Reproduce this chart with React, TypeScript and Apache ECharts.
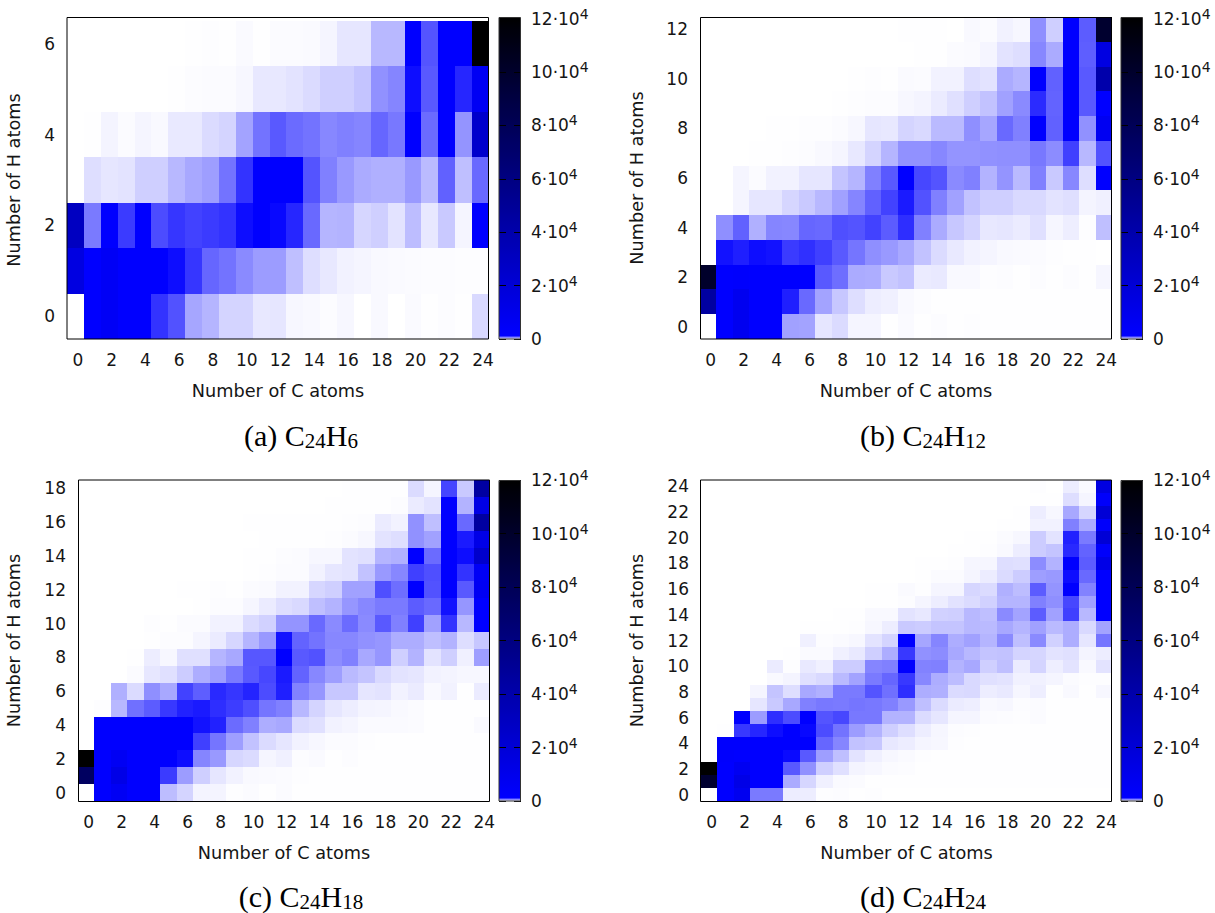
import React, { useEffect, useRef } from "react";
import * as echarts from "echarts";

// Rows run from the highest H count (top) down to H = 0. Columns are C = 0..24.
const panelA = [
  [0,0,0,0,0,0,0,3,8,5,20,5,15,15,20,40,100,100,280,280,1000,670,1000,1000,120000],
  [0,0,0,0,0,0,3,12,15,15,30,90,90,110,140,190,190,230,430,480,950,650,1000,850,6000],
  [0,5,45,15,40,25,85,85,140,170,360,550,650,580,550,470,500,480,600,530,1000,580,1000,420,25000],
  [0,130,100,110,190,190,280,340,380,550,800,1000,1000,1000,670,500,400,330,310,310,400,265,620,250,590],
  [30000,520,1000,770,1000,700,790,740,770,800,950,1000,970,850,590,290,300,160,190,110,260,90,210,40,1000],
  [15000,1000,5000,1000,1000,1000,950,790,600,550,460,390,390,250,130,90,50,40,25,20,15,12,10,8,8],
  [0,1000,5000,1000,1000,800,680,350,290,170,170,90,100,30,25,12,30,0,25,0,20,5,10,3,150],
];
const panelB = [
  [0,0,0,0,0,0,0,0,0,0,0,0,3,2,3,0,25,15,50,30,440,190,1000,640,98000],
  [0,0,0,0,0,0,0,0,0,0,0,0,0,3,3,15,20,40,110,130,470,330,1000,630,15000],
  [0,0,0,0,0,0,0,0,0,4,8,4,20,15,50,50,130,110,330,290,1000,620,1000,650,40000],
  [0,0,0,0,0,0,0,0,5,8,12,12,30,45,80,120,190,240,370,460,830,610,1000,650,1000],
  [0,0,0,0,4,3,6,6,15,30,100,90,170,150,270,270,440,350,590,500,1000,620,1000,430,7000],
  [0,0,0,3,3,8,12,25,40,90,170,290,430,430,470,420,420,430,440,440,530,450,750,280,680],
  [0,0,40,15,50,50,100,100,230,290,500,650,1000,720,670,460,500,300,420,270,500,210,470,130,1000],
  [0,0,40,100,100,160,210,280,370,480,620,740,900,680,500,370,240,190,190,150,150,110,125,45,60],
  [0,440,620,310,480,470,600,590,690,670,740,640,820,500,330,220,170,90,100,80,120,35,65,8,250],
  [0,930,880,950,930,770,810,750,650,540,440,400,340,240,140,85,50,40,25,20,15,8,5,3,0],
  [100000,1000,2000,1000,1000,1000,1000,650,570,330,320,210,240,80,85,25,25,8,12,3,12,3,12,3,35],
  [45000,1000,8000,1000,1000,880,590,360,220,130,70,60,25,10,3,2,2,2,2,2,2,2,2,2,2],
  [0,1000,8000,1000,1000,370,360,100,140,40,40,5,20,5,10,2,8,2,2,2,2,2,2,2,2],
];
const panelC = [
  [0,0,0,0,0,0,0,0,0,0,0,0,0,0,0,1,2,2,5,5,140,40,730,210,45000],
  [0,0,0,0,0,0,0,0,0,1,1,1,1,1,1,2,2,4,5,12,80,110,1000,300,13000],
  [0,0,0,0,0,0,0,0,0,0,3,3,3,3,3,5,8,10,80,50,430,250,1000,590,45000],
  [0,0,0,0,0,0,0,0,0,0,1,2,2,2,5,8,15,30,110,130,430,370,1000,900,12000],
  [0,0,0,0,0,0,0,0,0,0,5,5,10,15,30,30,110,120,290,310,1000,580,1000,950,25000],
  [0,0,0,0,0,0,0,0,0,0,5,8,15,15,50,100,110,240,400,470,750,690,1000,800,5000],
  [0,0,0,0,0,0,3,3,8,5,15,20,50,50,160,190,370,370,690,570,1000,680,1000,650,6000],
  [0,0,0,0,0,0,0,2,10,12,35,80,130,150,250,300,410,470,520,520,640,590,930,410,1000],
  [0,0,0,0,6,4,15,15,50,50,140,180,420,420,590,460,580,460,650,500,750,370,800,280,1000],
  [0,0,0,0,3,10,12,40,80,160,290,400,930,610,550,470,470,430,410,320,320,250,300,130,220],
  [0,0,0,5,70,30,120,120,290,340,660,660,1000,650,680,450,500,340,410,190,300,110,190,60,380],
  [0,0,0,15,95,120,200,320,380,520,650,720,900,610,470,380,270,230,150,110,100,50,45,30,30],
  [0,0,310,140,440,340,740,630,840,790,860,700,880,490,410,220,220,100,110,50,80,25,50,3,80],
  [0,8,280,560,640,780,870,900,820,760,690,540,500,280,170,100,70,45,40,25,15,5,5,3,3],
  [0,1000,1000,1000,1000,1000,1000,930,870,580,500,320,340,140,120,50,40,20,20,20,15,3,3,2,20],
  [0,1000,1000,1000,1000,1000,1000,750,540,380,240,140,100,50,30,15,15,8,5,3,2,2,2,2,2],
  [120000,1000,6000,1000,1000,1000,950,480,400,160,140,40,60,12,20,3,12,3,2,2,2,2,2,2,2],
  [75000,1000,12000,1000,1000,770,390,190,100,50,25,20,15,8,5,2,2,2,2,2,2,2,2,2,2],
  [0,1000,6000,1000,1000,260,170,45,45,8,15,5,15,5,3,2,2,2,2,2,2,2,2,2,2],
];
const panelD = [
  [0,0,0,0,0,0,0,0,0,0,0,0,0,0,0,0,0,0,0,0,8,0,70,20,15000],
  [0,0,0,0,0,0,0,0,0,0,0,0,0,0,0,0,0,0,0,0,5,5,130,40,3000],
  [0,0,0,0,0,0,0,0,0,0,0,0,0,0,0,0,0,0,0,2,70,30,340,160,20000],
  [0,0,0,0,0,0,0,0,0,0,0,0,0,0,0,0,0,0,2,3,50,50,500,330,3000],
  [0,0,0,0,0,0,0,0,0,0,0,0,0,0,0,0,3,3,15,30,200,110,870,520,20000],
  [0,0,0,0,0,0,0,0,0,0,0,0,0,0,0,2,3,8,25,70,200,230,840,610,3000],
  [0,0,0,0,0,0,0,0,0,0,0,0,0,3,5,8,35,35,130,120,450,300,1000,640,12000],
  [0,0,0,0,0,0,0,0,0,0,0,0,0,3,15,15,40,75,140,200,380,400,950,590,1000],
  [0,0,0,0,0,0,0,0,0,0,3,3,20,8,40,40,160,140,310,260,640,420,1000,490,1000],
  [0,0,0,0,0,0,0,0,0,0,2,5,10,40,70,115,140,180,290,290,500,440,720,370,1000],
  [0,0,0,0,0,0,0,0,4,3,25,25,110,90,180,190,280,250,460,360,640,370,750,280,1000],
  [0,0,0,0,0,0,2,2,5,8,30,70,210,200,230,230,280,270,340,290,370,270,320,150,360],
  [0,0,0,0,0,0,60,10,20,30,110,170,1000,350,480,320,370,290,460,250,460,180,320,100,540],
  [0,0,0,0,0,3,20,20,60,85,190,320,780,430,450,340,280,230,240,170,160,110,120,45,70],
  [0,0,0,0,80,8,85,60,200,200,480,500,1000,490,500,300,340,190,250,80,170,65,110,25,110],
  [0,0,0,0,25,45,120,150,270,360,520,600,780,470,320,260,150,120,110,55,55,40,15,8,8],
  [0,0,0,40,230,130,340,310,520,520,670,560,820,320,310,140,150,70,85,35,65,5,25,5,30],
  [0,0,0,100,210,340,500,530,520,540,530,500,400,250,140,80,65,25,30,12,15,3,3,2,2],
  [0,0,1000,390,820,700,1000,670,720,530,530,300,300,140,100,40,40,15,12,8,15,3,2,2,2],
  [0,5,780,850,950,1000,970,700,550,390,300,190,130,70,35,12,8,5,2,2,2,2,2,2,2],
  [0,2000,2000,1000,1000,1000,1000,600,480,240,220,90,70,40,30,8,5,2,2,2,2,2,2,2,2],
  [0,2000,1000,1000,1000,960,650,380,250,110,60,30,20,8,3,3,2,2,2,2,2,2,2,2,2],
  [120000,1000,7000,1000,1000,650,430,190,120,45,30,15,10,3,2,2,2,2,2,2,2,2,2,2,2],
  [98000,1000,12000,1000,1000,330,160,60,20,15,5,3,3,2,2,2,2,2,2,2,2,2,2,2,2],
  [0,1000,8000,520,520,70,70,8,10,3,8,0,0,0,0,0,0,0,0,0,0,0,0,0,0],
];

const carbonLabels = Array.from({ length: 25 }, (_, i) => String(i));
const xName = "Number of C atoms";
const yName = "Number of H atoms";
const captions = [
  ["(a) C", "24", "H", "6"],
  ["(b) C", "24", "H", "12"],
  ["(c) C", "24", "H", "18"],
  ["(d) C", "24", "H", "24"],
];
const panels = [panelA, panelB, panelC, panelD];

const layouts = [
  { heat: [67, 21, 422, 318], frame: [67, 17.5, 421.5, 321.5], bar: [499, 17, 22, 322], nameGapY: 44, captionX: 301, captionY: 423 },
  { heat: [700, 17, 412, 322], frame: [700.5, 17.5, 411, 321.5], bar: [1121, 17, 22, 322], nameGapY: 54, captionX: 923, captionY: 423 },
  { heat: [78, 480, 412, 321], frame: [78.5, 480, 411, 321.5], bar: [499, 480, 22, 321], nameGapY: 55, captionX: 301, captionY: 884 },
  { heat: [701, 480, 411, 321], frame: [700.5, 480, 411, 321.5], bar: [1121, 480, 22, 321], nameGapY: 55, captionX: 923, captionY: 884 },
];

// White up to a very small count, pure blue just above it, then linear to black at the top.
const palette = Array.from({ length: 121 }, (_, i) => {
  if (i === 0) return "#ffffff";
  const b = Math.round(255 * (1 - (i - 1) / 119));
  return `rgb(0,0,${b})`;
});

const FONT = "DejaVu Sans";
const TEXT = "#151515";

const renderCell = (_params: any, api: any) => {
  const c = api.coord([api.value(0), api.value(1)]);
  const s = api.size([1, 1]);
  const x0 = Math.round(c[0] - s[0] / 2);
  const x1 = Math.round(c[0] + s[0] / 2);
  const y0 = Math.round(c[1] - s[1] / 2);
  const y1 = Math.round(c[1] + s[1] / 2);
  return {
    type: "rect",
    shape: { x: x0, y: y0, width: x1 - x0, height: y1 - y0 },
    style: { fill: api.visual("color"), stroke: "none" },
  };
};

function buildOption() {
  const grid: any[] = [];
  const xAxis: any[] = [];
  const yAxis: any[] = [];
  const series: any[] = [];
  const visualMap: any[] = [];
  const title: any[] = [];
  const graphic: any[] = [];

  panels.forEach((rows, p) => {
    const L = layouts[p];
    const [hx, hy, hw, hh] = L.heat;
    grid.push({ left: hx, top: hy, width: hw, height: hh, containLabel: false });
    const hydrogenLabels = rows.map((_, i) => String(i));
    xAxis.push({
      type: "category",
      gridIndex: p,
      data: carbonLabels,
      name: xName,
      nameLocation: "middle",
      nameGap: 43,
      nameMoveOverlap: false,
      nameTextStyle: { fontFamily: FONT, fontSize: 17.7, color: TEXT },
      axisLine: { show: false },
      axisTick: { show: false },
      splitLine: { show: false },
      axisLabel: { interval: 1, margin: 12, padding: [0, 0, 0, 5], fontFamily: FONT, fontSize: 17, color: TEXT, hideOverlap: false },
    });
    yAxis.push({
      type: "category",
      gridIndex: p,
      data: hydrogenLabels,
      name: yName,
      nameLocation: "middle",
      nameGap: L.nameGapY,
      nameRotate: 90,
      nameMoveOverlap: false,
      nameTextStyle: { fontFamily: FONT, fontSize: 17.7, color: TEXT },
      axisLine: { show: false },
      axisTick: { show: false },
      splitLine: { show: false },
      axisLabel: { interval: 1, margin: 12, padding: [3, 0, 0, 0], fontFamily: FONT, fontSize: 17, color: TEXT, hideOverlap: false },
    });
    const data: number[][] = [];
    rows.forEach((row, r) => {
      row.forEach((v, c) => data.push([c, rows.length - 1 - r, v]));
    });
    series.push({
      type: "custom",
      xAxisIndex: p,
      yAxisIndex: p,
      coordinateSystem: "cartesian2d",
      data,
      encode: { x: 0, y: 1 },
      renderItem: renderCell,
      silent: true,
    });
    const [bx, by, bw, bh] = L.bar;
    visualMap.push({
      type: "continuous",
      seriesIndex: p,
      dimension: 2,
      min: 0,
      max: 120000,
      left: bx,
      top: by,
      itemWidth: bw,
      itemHeight: bh,
      padding: 0,
      calculable: false,
      hoverLink: false,
      text: null,
      showLabel: false,
      inRange: { color: palette },
    });
    title.push({
      text: `{t|${captions[p][0]}}{s|${captions[p][1]}}{t|${captions[p][2]}}{s|${captions[p][3]}}`,
      left: L.captionX,
      top: L.captionY,
      textAlign: "center",
      padding: 0,
      textStyle: {
        fontWeight: "normal",
        rich: {
          t: { fontFamily: "Liberation Serif", fontSize: 30, fontWeight: "normal", color: "#000", height: 24, lineHeight: 24 },
          s: { fontFamily: "Liberation Serif", fontSize: 21, fontWeight: "normal", color: "#000", height: 36, lineHeight: 24, verticalAlign: "top" },
        },
      },
    });
    const [fx, fy, fw, fh] = L.frame;
    graphic.push({
      type: "rect",
      z: 100,
      shape: { x: fx, y: fy, width: fw, height: fh },
      style: { fill: "none", stroke: "#000", lineWidth: 1 },
    });
    graphic.push({
      type: "rect",
      z: 100,
      shape: { x: bx, y: by + 0.5, width: bw - 0.5, height: bh - 0.5 },
      style: { fill: "none", stroke: "#333", lineWidth: 1 },
    });
  });

  // Colour-bar scales
  layouts.forEach((L, p) => {
    const idx = panels.length + p;
    const [bx, by, bw, bh] = L.bar;
    grid.push({ left: bx, top: by, width: bw, height: bh });
    xAxis.push({ type: "category", gridIndex: idx, data: [], show: false });
    yAxis.push({
      type: "value",
      gridIndex: idx,
      min: 0,
      max: 120000,
      interval: 20000,
      position: "right",
      z: 10,
      axisLine: { show: false },
      axisTick: { show: false },
      splitLine: { show: true, lineStyle: { color: "#000", width: 1, type: [7, 8] } },
      axisLabel: {
        margin: 10,
        fontFamily: FONT,
        fontSize: 17,
        color: TEXT,
        formatter: (v: number) => (v === 0 ? "{n|0}" : `{n|${v / 10000}·10}{p|4}`),
        rich: {
          n: { fontFamily: FONT, fontSize: 17, color: TEXT, height: 17, lineHeight: 17 },
          p: { fontFamily: FONT, fontSize: 14, color: TEXT, height: 27, lineHeight: 17, verticalAlign: "bottom" },
        },
      },
    });
  });

  return { animation: false, backgroundColor: "#fff", grid, xAxis, yAxis, series, visualMap, title, graphic };
}

export default function App() {
  const ref = useRef<HTMLDivElement>(null);
  useEffect(() => {
    if (!ref.current) return;
    const chart = echarts.init(ref.current, undefined, { renderer: "svg" });
    chart.setOption(buildOption() as any);
    return () => chart.dispose();
  }, []);
  return <div ref={ref} style={{ position: "fixed", left: 0, top: 0, width: 1215, height: 913 }} />;
}
